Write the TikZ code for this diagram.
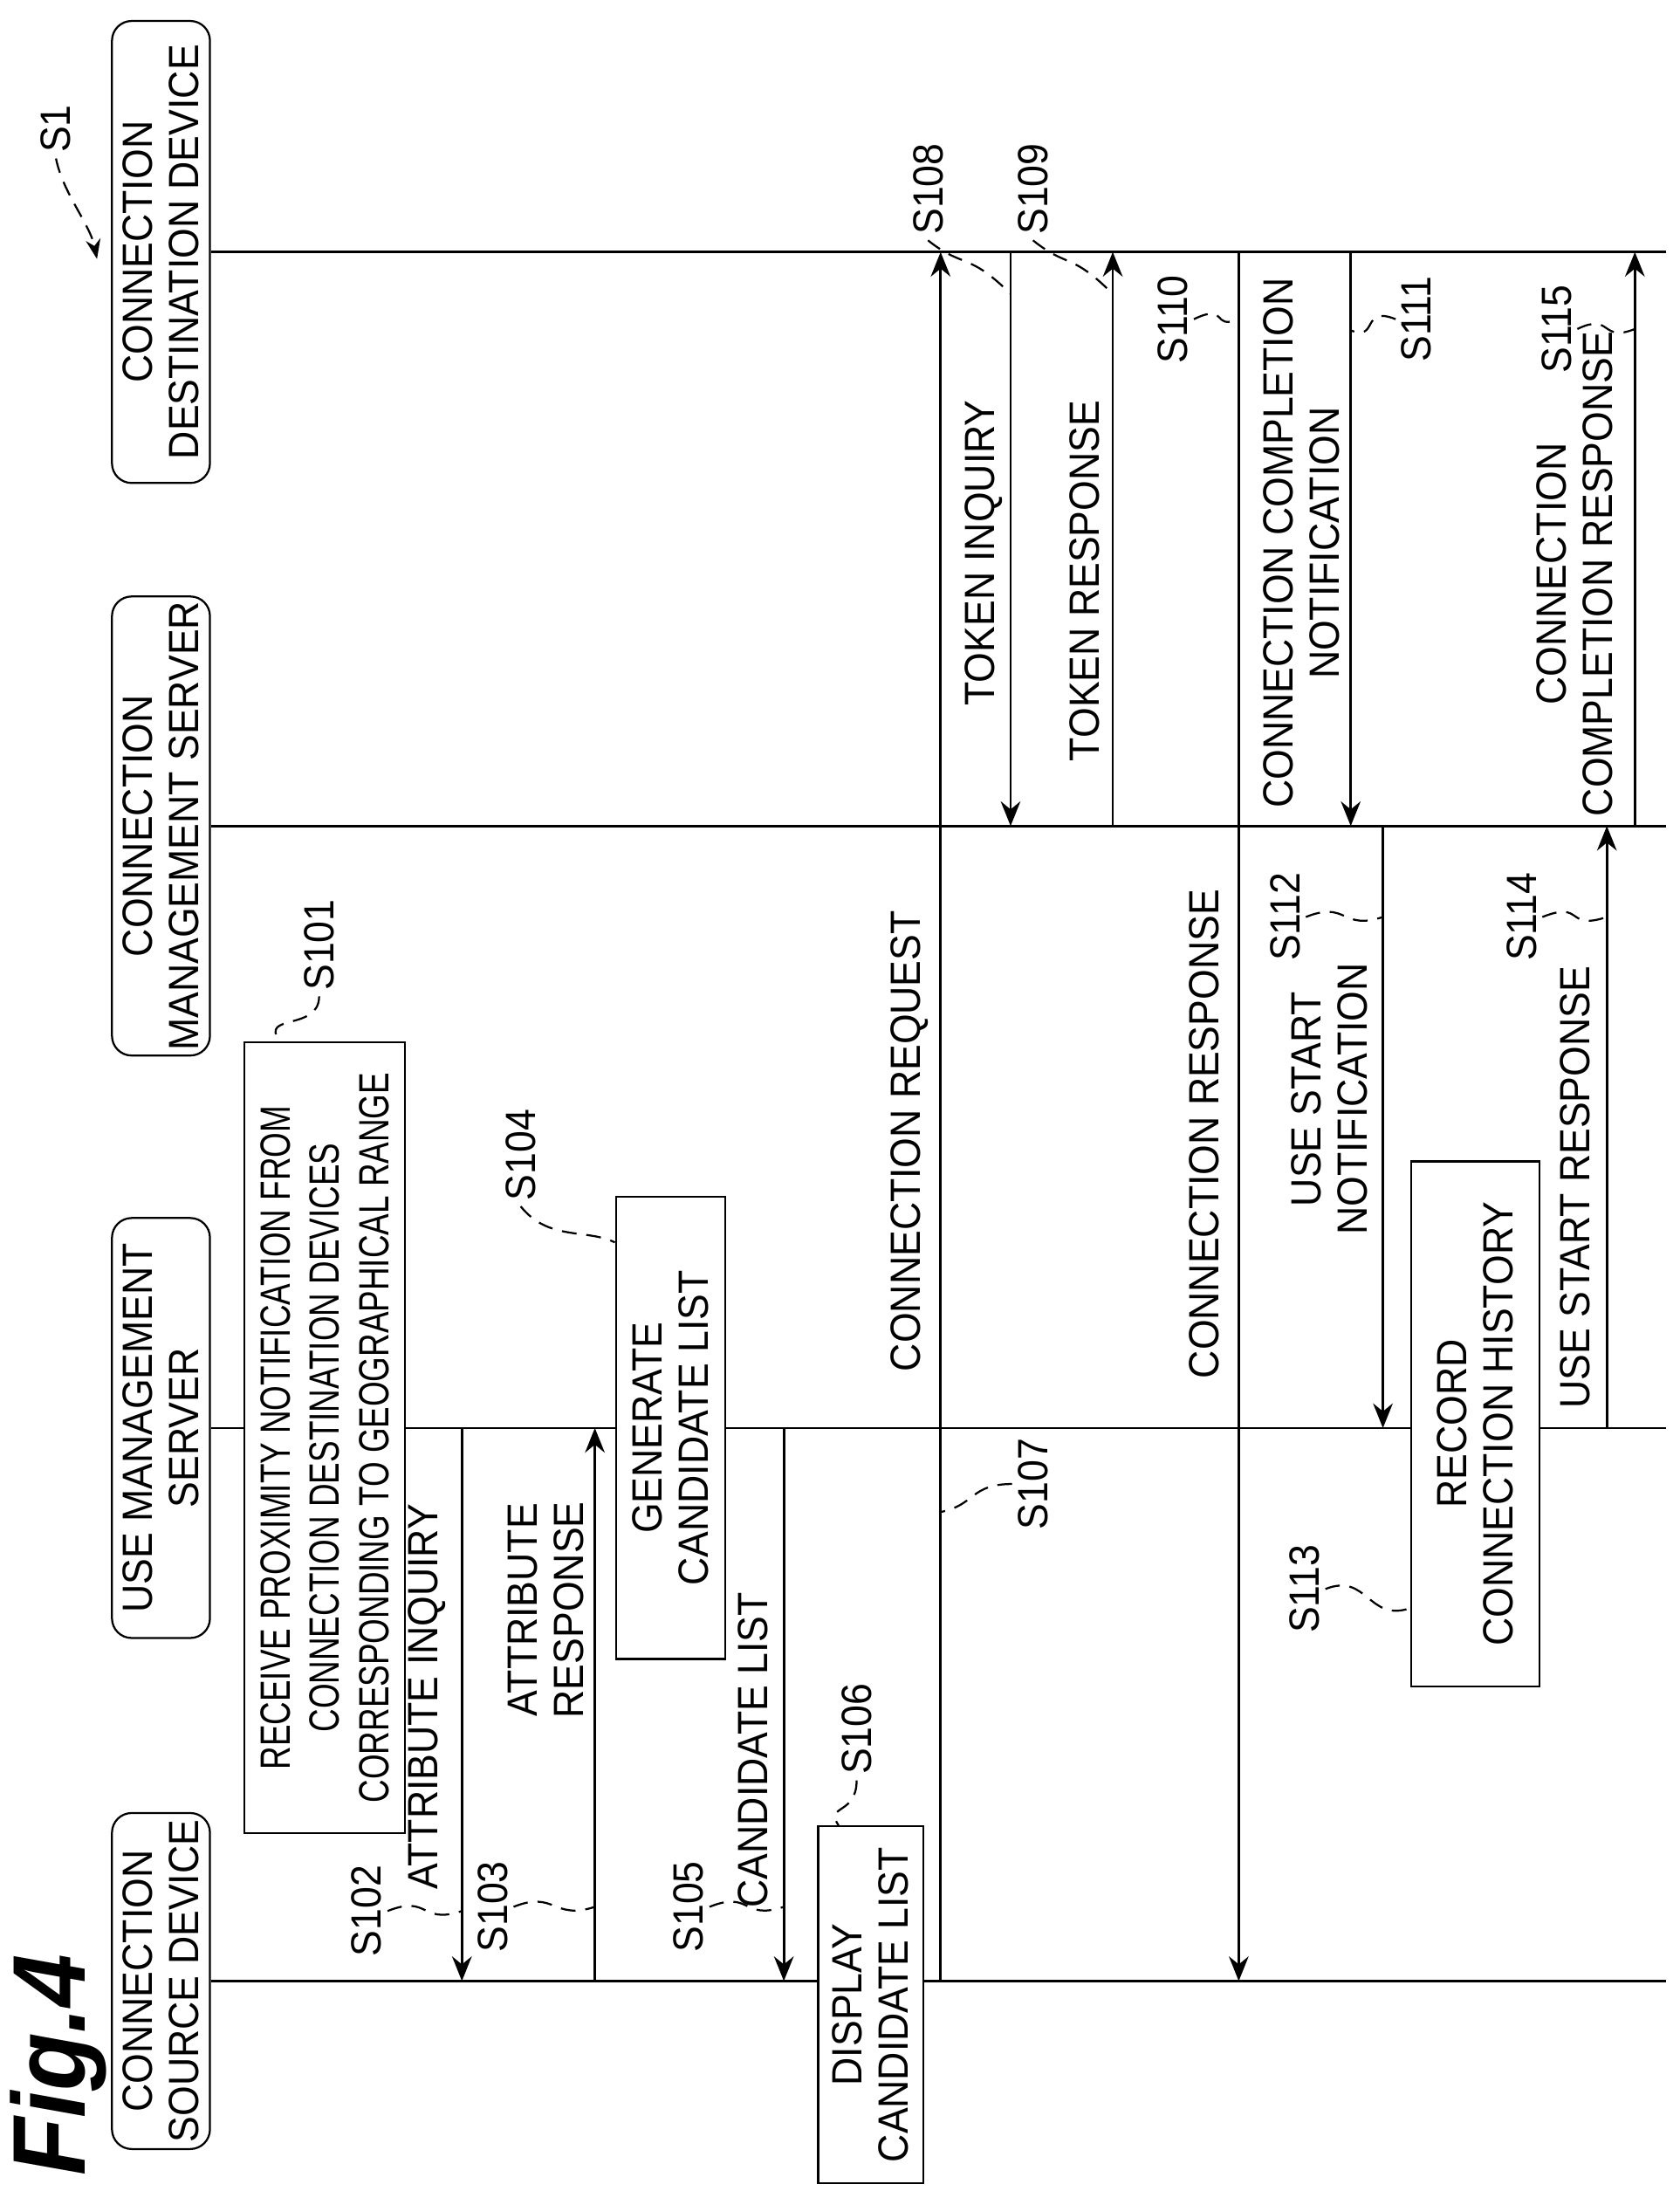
\documentclass[tikz,border=0pt]{standalone}
\usepackage{fontspec}
\setmainfont{Liberation Sans}[FakeStretch=0.92]
\newfontfamily\narrowfont{Liberation Sans}[FakeStretch=0.76]
\usetikzlibrary{arrows.meta,positioning,calc}

\begin{document}
\begin{tikzpicture}[
  x=0.1mm, y=-0.1mm,
  font=\fontsize{8.6}{9.4}\selectfont,
  head/.style={draw, rounded corners=4pt, rotate=90, align=center, minimum height=7mm, inner sep=1pt},
  proc/.style={draw, fill=white, rotate=90, align=center, inner sep=1pt},
  life/.style={line width=0.5pt},
  msg/.style={line width=0.5pt, -{Stealth[length=5pt,width=4pt]}},
  mtext/.style={rotate=90, align=center, inner sep=1pt},
  slabel/.style={rotate=90, inner sep=1pt},
  lead/.style={densely dashed, line width=0.4pt}
]
\useasboundingbox (0,0) rectangle (1200,1570);

% lifeline headers
\node[head, minimum width=24mm] (src) at (115,1415) {CONNECTION\\SOURCE DEVICE};
\node[head, minimum width=30mm] (usr) at (115,1020) {USE MANAGEMENT\\SERVER};
\node[head, minimum width=26mm] (cms) at (115,590) {CONNECTION\\MANAGEMENT SERVER};
\node[head, minimum width=33mm] (dst) at (115,180) {CONNECTION\\DESTINATION DEVICE};

\coordinate (tend) at (1190,0);
\draw[life] (src.south) -- (src.south -| tend);
\draw[life] (usr.south) -- (usr.south -| tend);
\draw[life] (cms.south) -- (cms.south -| tend);
\draw[life] (dst.south) -- (dst.south -| tend);

\node[rotate=90, font=\bfseries\itshape\fontsize{21}{21}\selectfont] (fig) at (42,1475) {Fig.4};

% time points of the messages
\coordinate (t102) at (330,0);
\coordinate (t103) at (425,0);
\coordinate (t105) at (560,0);
\coordinate (t107) at (672,0);
\coordinate (t108) at (722,0);
\coordinate (t109) at (795,0);
\coordinate (t110) at (885,0);
\coordinate (t111) at (965,0);
\coordinate (t112) at (988,0);
\coordinate (t114) at (1148,0);
\coordinate (t115) at (1168,0);

% process boxes
\node[proc, minimum width=56.5mm, minimum height=11.5mm, font=\narrowfont\fontsize{8.6}{10}\selectfont] (b101) at (232,1027) {RECEIVE PROXIMITY NOTIFICATION FROM\\CONNECTION DESTINATION DEVICES\\CORRESPONDING TO GEOGRAPHICAL RANGE};
\node[proc, minimum width=33mm, minimum height=7.8mm] (b104) at (479,1020) {GENERATE\\CANDIDATE LIST};
\node[proc, minimum width=25.5mm, minimum height=7.5mm] (b106) at (622,1432) {DISPLAY\\CANDIDATE LIST};
\node[proc, minimum width=37.5mm, minimum height=9.2mm] (b113) at (1054,1017) {RECORD\\CONNECTION HISTORY};

% messages
\draw[msg] (t102 |- usr) -- (t102 |- src);
\draw[msg] (t103 |- src) -- (t103 |- usr);
\draw[msg] (t105 |- usr) -- (t105 |- src);
\draw[msg] (t107 |- src) -- (t107 |- dst);
\draw[msg] (t108 |- dst) -- (t108 |- cms);
\draw[msg] (t109 |- cms) -- (t109 |- dst);
\draw[msg] (t110 |- dst) -- (t110 |- src);
\draw[msg] (t111 |- dst) -- (t111 |- cms);
\draw[msg] (t112 |- cms) -- (t112 |- usr);
\draw[msg] (t114 |- usr) -- (t114 |- cms);
\draw[msg] (t115 |- cms) -- (t115 |- dst);

% message texts
\node[mtext] (m102) at (305,1212) {ATTRIBUTE INQUIRY};
\node[mtext] (m103) at (390,1150) {ATTRIBUTE\\RESPONSE};
\node[mtext] (m105) at (538,1250) {CANDIDATE LIST};
\node[mtext] (m107) at (650,815) {CONNECTION REQUEST};
\node[mtext] (m108) at (703,395) {TOKEN INQUIRY};
\node[mtext] (m109) at (775,415) {TOKEN RESPONSE};
\node[mtext] (m110) at (860,810) {CONNECTION RESPONSE};
\node[mtext] (m111) at (930,388) {CONNECTION COMPLETION\\NOTIFICATION};
\node[mtext] (m112) at (950,785) {USE START\\NOTIFICATION};
\node[mtext] (m114) at (1125,848) {USE START RESPONSE};
\node[mtext] (m115) at (1125,410) {CONNECTION\\COMPLETION RESPONSE};

% step labels
\node[slabel] (l101) at (228,675) {S101};
\node[slabel] (l102) at (262,1365) {S102};
\node[slabel] (l103) at (352,1362) {S103};
\node[slabel] (l104) at (372,825) {S104};
\node[slabel] (l105) at (492,1362) {S105};
\node[slabel] (l106) at (612,1235) {S106};
\node[slabel] (l107) at (738,1060) {S107};
\node[slabel] (l108) at (663,135) {S108};
\node[slabel] (l109) at (738,135) {S109};
\node[slabel] (l110) at (838,228) {S110};
\node[slabel] (l111) at (1012,228) {S111};
\node[slabel] (l112) at (918,655) {S112};
\node[slabel] (l113) at (932,1135) {S113};
\node[slabel] (l114) at (1087,655) {S114};
\node[slabel] (l115) at (1112,235) {S115};
\node[slabel] (ls1) at (40,92) {S1};

% leaders
\draw[lead] (l101.west) .. controls +(0,25) and +(-15,-20) .. ($(b101.east)!0.55!(b101.north east)$);
\draw[lead] (l102.south) .. controls +(30,-12) and +(-30,10) .. (t102 |- l102);
\draw[lead] (l103.south) .. controls +(30,-12) and +(-30,10) .. (t103 |- l103);
\draw[lead] (l104.west) .. controls +(20,25) and +(-20,-10) .. ($(b104.north east)!0.1!(b104.north west)$);
\draw[lead] (l105.south) .. controls +(30,-12) and +(-30,10) .. (t105 |- l105);
\draw[lead] (l106.west) .. controls +(0,25) and +(-10,-15) .. ($(b106.east)!0.6!(b106.north east)$);
\draw[lead] (l107.north) .. controls +(-30,0) and +(25,-5) .. ([yshift=-2mm]t107 |- l107);
\draw[lead] (l108.west) .. controls +(25,20) and +(-30,-30) .. ([yshift=-7.5mm]t108 |- l108);
\draw[lead] (l109.west) .. controls +(25,20) and +(-30,-30) .. ([yshift=-7.5mm]t109 |- l109);
\draw[lead] (l110.south) .. controls +(25,-12) and +(-20,8) .. (t110 |- l110);
\draw[lead] (l111.north) .. controls +(-25,-10) and +(20,8) .. ([yshift=-0.8mm]t111 |- l111);
\draw[lead] (l112.south) .. controls +(30,-12) and +(-30,10) .. (t112 |- l112);
\draw[lead] (l113.south) .. controls +(30,-12) and +(-30,10) .. ($(b113.north west)!0.15!(b113.north east)$);
\draw[lead] (l114.south) .. controls +(30,-12) and +(-30,10) .. (t114 |- l114);
\draw[lead] (l115.south) .. controls +(25,-12) and +(-25,10) .. (t115 |- l115);
\draw[lead, -{Stealth[length=4pt,width=3pt]}] (ls1.west) .. controls +(5,25) and +(-5,-25) .. ([xshift=-1mm,yshift=-0.5mm]dst.north);

\end{tikzpicture}
\end{document}
